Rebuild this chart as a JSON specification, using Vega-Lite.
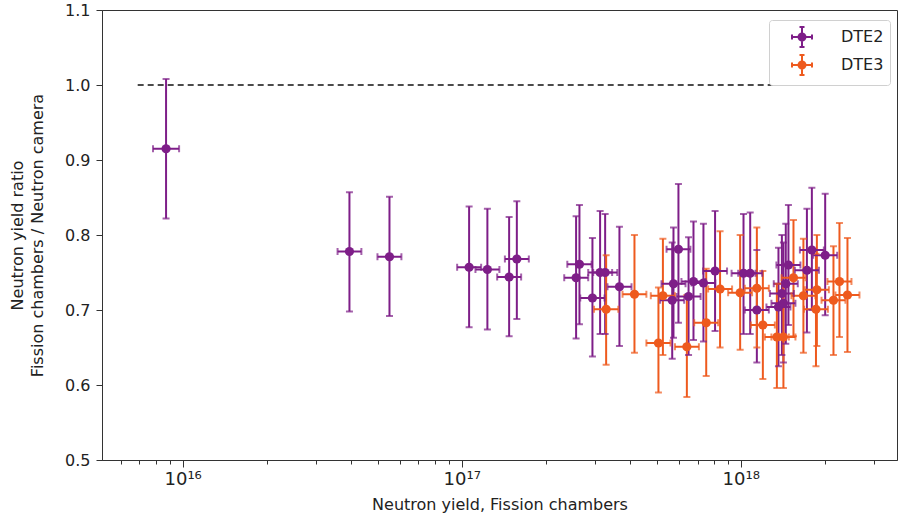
{
  "$schema": "https://vega.github.io/schema/vega-lite/v6.json",
  "width": 795,
  "height": 450,
  "autosize": {"type": "none"},
  "padding": {"left": 102, "top": 10, "right": 4, "bottom": 58},
  "background": "white",
  "config": {
    "font": "DejaVu Sans",
    "view": {"stroke": "#333", "strokeWidth": 1},
    "axis": {"grid": false, "domainColor": "#333", "tickColor": "#333", "labelColor": "#222", "titleColor": "#222", "labelFont": "DejaVu Sans", "titleFont": "DejaVu Sans", "titleFontWeight": "normal", "labelFontSize": 16, "titleFontSize": 16}
  },
  "datasets": {
    "pts": [
      {"s": "DTE2", "x": 8.72e15, "xlo": 7.83e15, "xhi": 9.71e15, "y": 0.915, "ylo": 0.822, "yhi": 1.008},
      {"s": "DTE2", "x": 3.96e16, "xlo": 3.59e16, "xhi": 4.37e16, "y": 0.778, "ylo": 0.698, "yhi": 0.857},
      {"s": "DTE2", "x": 5.51e16, "xlo": 4.99e16, "xhi": 6.08e16, "y": 0.771, "ylo": 0.692, "yhi": 0.851},
      {"s": "DTE2", "x": 1.063e17, "xlo": 9.63e16, "xhi": 1.174e17, "y": 0.757, "ylo": 0.677, "yhi": 0.838},
      {"s": "DTE2", "x": 1.236e17, "xlo": 1.12e17, "xhi": 1.365e17, "y": 0.754, "ylo": 0.674, "yhi": 0.835},
      {"s": "DTE2", "x": 1.479e17, "xlo": 1.34e17, "xhi": 1.633e17, "y": 0.744, "ylo": 0.665, "yhi": 0.824},
      {"s": "DTE2", "x": 1.576e17, "xlo": 1.428e17, "xhi": 1.74e17, "y": 0.768, "ylo": 0.688, "yhi": 0.845},
      {"s": "DTE2", "x": 2.57e17, "xlo": 2.33e17, "xhi": 2.84e17, "y": 0.743, "ylo": 0.662, "yhi": 0.825},
      {"s": "DTE2", "x": 2.642e17, "xlo": 2.39e17, "xhi": 2.92e17, "y": 0.761, "ylo": 0.681, "yhi": 0.84},
      {"s": "DTE2", "x": 2.941e17, "xlo": 2.66e17, "xhi": 3.25e17, "y": 0.716, "ylo": 0.638, "yhi": 0.796},
      {"s": "DTE2", "x": 3.133e17, "xlo": 2.84e17, "xhi": 3.46e17, "y": 0.75, "ylo": 0.668, "yhi": 0.832},
      {"s": "DTE2", "x": 3.266e17, "xlo": 2.96e17, "xhi": 3.61e17, "y": 0.75, "ylo": 0.668, "yhi": 0.828},
      {"s": "DTE2", "x": 3.675e17, "xlo": 3.33e17, "xhi": 4.06e17, "y": 0.731, "ylo": 0.652, "yhi": 0.811},
      {"s": "DTE2", "x": 5.74e17, "xlo": 5.2e17, "xhi": 6.34e17, "y": 0.735, "ylo": 0.663, "yhi": 0.81},
      {"s": "DTE2", "x": 5.98e17, "xlo": 5.42e17, "xhi": 6.6e17, "y": 0.781, "ylo": 0.683, "yhi": 0.868},
      {"s": "DTE2", "x": 5.68e17, "xlo": 5.14e17, "xhi": 6.27e17, "y": 0.713, "ylo": 0.635, "yhi": 0.79},
      {"s": "DTE2", "x": 6.5e17, "xlo": 5.89e17, "xhi": 7.18e17, "y": 0.718, "ylo": 0.64, "yhi": 0.797},
      {"s": "DTE2", "x": 6.77e17, "xlo": 6.13e17, "xhi": 7.47e17, "y": 0.738, "ylo": 0.66, "yhi": 0.818},
      {"s": "DTE2", "x": 7.35e17, "xlo": 6.66e17, "xhi": 8.11e17, "y": 0.736, "ylo": 0.658, "yhi": 0.815},
      {"s": "DTE2", "x": 8.09e17, "xlo": 7.33e17, "xhi": 8.93e17, "y": 0.752, "ylo": 0.672, "yhi": 0.832},
      {"s": "DTE2", "x": 1.023e18, "xlo": 9.27e17, "xhi": 1.129e18, "y": 0.749, "ylo": 0.668, "yhi": 0.828},
      {"s": "DTE2", "x": 1.081e18, "xlo": 9.79e17, "xhi": 1.193e18, "y": 0.749, "ylo": 0.668, "yhi": 0.83},
      {"s": "DTE2", "x": 1.142e18, "xlo": 1.034e18, "xhi": 1.261e18, "y": 0.7, "ylo": 0.63, "yhi": 0.78},
      {"s": "DTE2", "x": 1.365e18, "xlo": 1.236e18, "xhi": 1.507e18, "y": 0.704, "ylo": 0.625, "yhi": 0.783},
      {"s": "DTE2", "x": 1.404e18, "xlo": 1.272e18, "xhi": 1.55e18, "y": 0.722, "ylo": 0.64, "yhi": 0.8},
      {"s": "DTE2", "x": 1.422e18, "xlo": 1.288e18, "xhi": 1.57e18, "y": 0.709, "ylo": 0.63, "yhi": 0.79},
      {"s": "DTE2", "x": 1.45e18, "xlo": 1.313e18, "xhi": 1.601e18, "y": 0.735, "ylo": 0.655, "yhi": 0.815},
      {"s": "DTE2", "x": 1.482e18, "xlo": 1.342e18, "xhi": 1.636e18, "y": 0.76, "ylo": 0.68, "yhi": 0.84},
      {"s": "DTE2", "x": 1.726e18, "xlo": 1.563e18, "xhi": 1.906e18, "y": 0.753, "ylo": 0.67, "yhi": 0.835},
      {"s": "DTE2", "x": 1.798e18, "xlo": 1.629e18, "xhi": 1.985e18, "y": 0.78, "ylo": 0.7, "yhi": 0.863},
      {"s": "DTE2", "x": 2.007e18, "xlo": 1.818e18, "xhi": 2.216e18, "y": 0.773, "ylo": 0.693, "yhi": 0.855},
      {"s": "DTE3", "x": 3.293e17, "xlo": 2.98e17, "xhi": 3.64e17, "y": 0.701, "ylo": 0.627, "yhi": 0.773},
      {"s": "DTE3", "x": 4.16e17, "xlo": 3.77e17, "xhi": 4.59e17, "y": 0.721, "ylo": 0.643, "yhi": 0.8},
      {"s": "DTE3", "x": 5.26e17, "xlo": 4.76e17, "xhi": 5.81e17, "y": 0.719, "ylo": 0.64, "yhi": 0.795},
      {"s": "DTE3", "x": 5.07e17, "xlo": 4.59e17, "xhi": 5.6e17, "y": 0.656, "ylo": 0.59, "yhi": 0.73},
      {"s": "DTE3", "x": 6.41e17, "xlo": 5.81e17, "xhi": 7.08e17, "y": 0.651, "ylo": 0.584, "yhi": 0.72},
      {"s": "DTE3", "x": 7.52e17, "xlo": 6.81e17, "xhi": 8.3e17, "y": 0.683, "ylo": 0.612, "yhi": 0.755},
      {"s": "DTE3", "x": 8.43e17, "xlo": 7.64e17, "xhi": 9.31e17, "y": 0.728, "ylo": 0.65, "yhi": 0.805},
      {"s": "DTE3", "x": 9.95e17, "xlo": 9.01e17, "xhi": 1.098e18, "y": 0.723, "ylo": 0.647, "yhi": 0.8},
      {"s": "DTE3", "x": 1.142e18, "xlo": 1.034e18, "xhi": 1.261e18, "y": 0.729, "ylo": 0.65, "yhi": 0.81},
      {"s": "DTE3", "x": 1.2e18, "xlo": 1.087e18, "xhi": 1.325e18, "y": 0.68, "ylo": 0.608, "yhi": 0.752},
      {"s": "DTE3", "x": 1.347e18, "xlo": 1.22e18, "xhi": 1.487e18, "y": 0.664, "ylo": 0.596, "yhi": 0.735},
      {"s": "DTE3", "x": 1.422e18, "xlo": 1.288e18, "xhi": 1.57e18, "y": 0.664, "ylo": 0.596, "yhi": 0.735},
      {"s": "DTE3", "x": 1.545e18, "xlo": 1.4e18, "xhi": 1.706e18, "y": 0.743, "ylo": 0.665, "yhi": 0.82},
      {"s": "DTE3", "x": 1.677e18, "xlo": 1.519e18, "xhi": 1.851e18, "y": 0.719, "ylo": 0.643, "yhi": 0.795},
      {"s": "DTE3", "x": 1.874e18, "xlo": 1.697e18, "xhi": 2.069e18, "y": 0.727, "ylo": 0.652, "yhi": 0.8},
      {"s": "DTE3", "x": 1.86e18, "xlo": 1.685e18, "xhi": 2.053e18, "y": 0.701, "ylo": 0.625, "yhi": 0.775},
      {"s": "DTE3", "x": 2.149e18, "xlo": 1.947e18, "xhi": 2.372e18, "y": 0.713, "ylo": 0.64, "yhi": 0.785},
      {"s": "DTE3", "x": 2.258e18, "xlo": 2.045e18, "xhi": 2.493e18, "y": 0.738, "ylo": 0.664, "yhi": 0.816},
      {"s": "DTE3", "x": 2.412e18, "xlo": 2.185e18, "xhi": 2.663e18, "y": 0.72, "ylo": 0.644, "yhi": 0.796}
    ],
    "ref": [{"x": 6.9e15, "x2": 2.85e18, "y": 1.0}]
  },
  "layer": [
    {
      "data": {"name": "ref"},
      "mark": {"type": "rule", "color": "#111", "strokeWidth": 1.6, "strokeDash": [6, 4]},
      "encoding": {
        "x": {"field": "x", "type": "quantitative", "scale": {"type": "log", "domain": [5.14e15, 3.63e18], "nice": false},
          "axis": {
            "title": "Neutron yield, Fission chambers",
            "titlePadding": 8,
            "values": [6e15, 7e15, 8e15, 9e15, 1e16, 2e16, 3e16, 4e16, 5e16, 6e16, 7e16, 8e16, 9e16, 1e17, 2e17, 3e17, 4e17, 5e17, 6e17, 7e17, 8e17, 9e17, 1e18, 2e18, 3e18],
            "labelExpr": "datum.value == 1e16 ? '10¹⁶' : datum.value == 1e17 ? '10¹⁷' : datum.value == 1e18 ? '10¹⁸' : ''",
            "tickSize": {"condition": {"test": "datum.value == 1e16 || datum.value == 1e17 || datum.value == 1e18", "value": 7}, "value": 4},
            "labelFontSize": 18,
            "labelPadding": 3,
            "labelFlush": false,
            "labelOverlap": false
          }},
        "x2": {"field": "x2"},
        "y": {"field": "y", "type": "quantitative", "scale": {"domain": [0.5, 1.1], "nice": false, "zero": false},
          "axis": {
            "title": ["Neutron yield ratio", "Fission chambers / Neutron camera"],
            "values": [0.5, 0.6, 0.7, 0.8, 0.9, 1.0, 1.1],
            "format": ".1f",
            "tickSize": 6,
            "labelPadding": 6,
            "titlePadding": 19,
            "titleLineHeight": 20
          }}
      }
    },
    {
      "data": {"name": "pts"},
      "mark": {"type": "rule", "strokeWidth": 2},
      "encoding": {
        "x": {"field": "x", "type": "quantitative"},
        "y": {"field": "ylo", "type": "quantitative"},
        "y2": {"field": "yhi"},
        "color": {"field": "s", "type": "nominal", "scale": {"domain": ["DTE2", "DTE3"], "range": ["#7e1e88", "#ee5a1e"]}}
      }
    },
    {
      "data": {"name": "pts"},
      "mark": {"type": "rule", "strokeWidth": 2},
      "encoding": {
        "x": {"field": "xlo", "type": "quantitative"},
        "x2": {"field": "xhi"},
        "y": {"field": "y", "type": "quantitative"},
        "color": {"field": "s", "type": "nominal"}
      }
    },
    {
      "data": {"name": "pts"},
      "mark": {"type": "tick", "orient": "horizontal", "size": 7, "thickness": 2},
      "encoding": {
        "x": {"field": "x", "type": "quantitative"},
        "y": {"field": "ylo", "type": "quantitative"},
        "color": {"field": "s", "type": "nominal"}
      }
    },
    {
      "data": {"name": "pts"},
      "mark": {"type": "tick", "orient": "horizontal", "size": 7, "thickness": 2},
      "encoding": {
        "x": {"field": "x", "type": "quantitative"},
        "y": {"field": "yhi", "type": "quantitative"},
        "color": {"field": "s", "type": "nominal"}
      }
    },
    {
      "data": {"name": "pts"},
      "mark": {"type": "tick", "orient": "vertical", "size": 7, "thickness": 2},
      "encoding": {
        "x": {"field": "xlo", "type": "quantitative"},
        "y": {"field": "y", "type": "quantitative"},
        "color": {"field": "s", "type": "nominal"}
      }
    },
    {
      "data": {"name": "pts"},
      "mark": {"type": "tick", "orient": "vertical", "size": 7, "thickness": 2},
      "encoding": {
        "x": {"field": "xhi", "type": "quantitative"},
        "y": {"field": "y", "type": "quantitative"},
        "color": {"field": "s", "type": "nominal"}
      }
    },
    {
      "data": {"name": "pts"},
      "mark": {"type": "point", "filled": true, "shape": "circle", "size": 85, "opacity": 1},
      "encoding": {
        "x": {"field": "x", "type": "quantitative"},
        "y": {"field": "y", "type": "quantitative"},
        "color": {"field": "s", "type": "nominal",
          "legend": {
            "title": null,
            "orient": "none",
            "legendX": 667,
            "legendY": 10,
            "padding": 6,
            "strokeColor": "#d0d0d0",
            "fillColor": "white",
            "cornerRadius": 3,
            "labelFont": "DejaVu Sans",
            "labelFontSize": 16,
            "labelColor": "#222",
            "labelOffset": 28,
            "symbolOffset": 16,
            "rowPadding": 0,
            "symbolSize": 400,
            "symbolStrokeWidth": 2,
            "symbolOpacity": 1,
            "symbolType": "M -1 0 L 1 0 M 0 -1 L 0 1 M -1 -0.25 L -1 0.25 M 1 -0.25 L 1 0.25 M -0.25 -1 L 0.25 -1 M -0.25 1 L 0.25 1 M -0.35 0 A 0.35 0.35 0 1 0 0.35 0 A 0.35 0.35 0 1 0 -0.35 0 Z",
            "encode": {"symbols": {"update": {"stroke": {"scale": "color", "field": "value"}, "fill": {"scale": "color", "field": "value"}, "strokeWidth": {"value": 2}, "opacity": {"value": 1}, "fillOpacity": {"value": 1}, "strokeOpacity": {"value": 1}}}}
          }}
      }
    }
  ]
}
